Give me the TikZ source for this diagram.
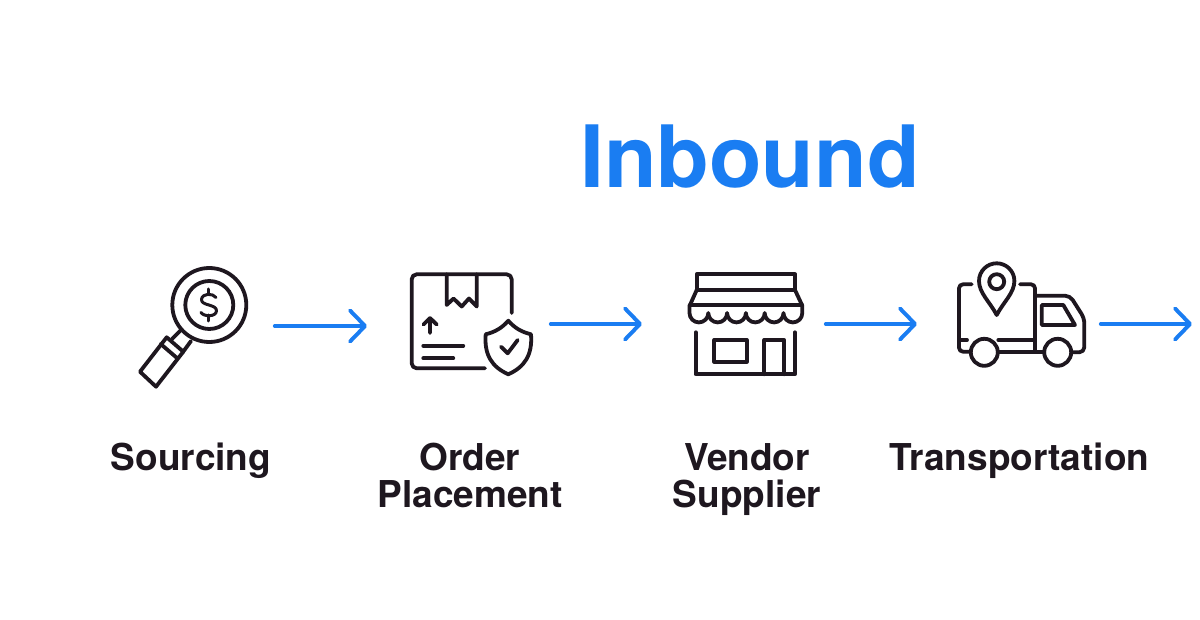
\documentclass[tikz,border=0pt]{standalone}
\usepackage{fontspec}
\setmainfont{TeX Gyre Heros}
\usetikzlibrary{arrows.meta}
\definecolor{inblue}{HTML}{1A7DF2}
\definecolor{inkdark}{HTML}{1E171F}
\tikzset{
  x=1pt,y=-1pt,
  icon/.style={draw=inkdark,line width=3.8pt,line cap=round,line join=round},
  iconbox/.style={inner sep=0pt,outer sep=0pt,minimum height=20pt},
  flow/.style={draw=inblue,line width=3.9pt,line cap=round,shorten <=1.8pt,-{Straight Barb[round,length=15pt,width=31pt,line width=3.9pt]}},
  steplabel/.style={font=\fontsize{37}{37}\selectfont\bfseries,text=inkdark,align=center,inner sep=0pt,anchor=center},
  titlelabel/.style={font=\fontsize{86}{86}\selectfont\bfseries,text=inblue,inner sep=0pt}
}
\begin{document}
\begin{tikzpicture}
\useasboundingbox (0,0) rectangle (1200,620);
\fill[white] (0,0) rectangle (1200,620);
% anchors for connectors
\node[iconbox,minimum width=135pt] (src) at (205.5,326) {};
\node[iconbox,minimum width=182pt] (ord) at (458,324) {};
\node[iconbox,minimum width=182pt] (ven) at (733,324) {};
\node[iconbox,minimum width=182pt] (tra) at (1008,324) {};
\coordinate (out) at (1192,324);
% connectors
\draw[flow] (src.east) -- (src.east -| ord.west);
\draw[flow] (ord.east) -- (ven.west);
\draw[flow] (ven.east) -- (tra.west);
\draw[flow] (tra.east) -- (out);
% magnifier
\draw[icon] (209.3,305) circle (37);
\draw[icon] (209.3,305) circle (24);
\draw[icon] (140,371.7) -- (156,386.7) -- (183.3,351.7) -- (166.7,337.3) -- cycle;
\draw[icon] (160.7,344) -- (177,358);
\draw[icon] (172,339) -- (181,330);
\draw[icon] (183,352) -- (191,341);
\draw[icon,line width=3pt] (216,297.5) .. controls (213,293) and (202,293) .. (201.5,299.5) .. controls (201,306) and (217,304) .. (216.5,311) .. controls (216,317) and (204,317) .. (201,312.5);
\draw[icon,line width=3pt] (208.8,289) -- (208.8,293.5) (208.8,315) -- (208.8,321);
% order box
\draw[icon,rounded corners=5pt] (511.7,313) -- (511.7,274.3) -- (411.7,274.3) -- (411.7,368.3) -- (485,368.3);
\draw[icon] (446.7,274.3) -- (446.7,305) -- (453.5,298.5) -- (461.7,306.5) -- (469,298.5) -- (476.7,306.5) -- (476.7,274.3);
\draw[icon] (430,333) -- (430,318) (423.5,324.5) -- (430,318) -- (436.7,324.5);
\draw[icon] (423.3,345.7) -- (463.3,345.7) (423.3,358.3) -- (453.3,358.3);
\draw[icon] (508.3,320.7) .. controls (502,328) and (495,332) .. (485.7,334.3) .. controls (484,355) and (492,367) .. (508.3,374.3) .. controls (524.6,367) and (532.6,355) .. (531,334.3) .. controls (521.6,332) and (514.6,328) .. (508.3,320.7) -- cycle;
\draw[icon] (501,346.7) -- (507.7,353.3) -- (517.7,340);
% store
\draw[icon] (696.7,290) -- (696.7,274.3) -- (795,274.3) -- (795,290) -- cycle;
\draw[icon] (696.7,290) -- (690,305) (795,290) -- (802,305);
\draw[icon] (690,305) -- (802,305);
\draw[icon] (689.5,305) -- (689.5,313)
  arc[start angle=180,end angle=0,radius=9.4]
  arc[start angle=180,end angle=0,radius=9.4]
  arc[start angle=180,end angle=0,radius=9.4]
  arc[start angle=180,end angle=0,radius=9.4]
  arc[start angle=180,end angle=0,radius=9.4]
  arc[start angle=180,end angle=0,radius=9.4] -- (802.3,305);
\draw[icon] (695.7,332.3) -- (695.7,374.3) -- (795,374.3) -- (795,332.3);
\draw[icon] (714.3,340) rectangle (746.7,361.7);
\draw[icon] (764.3,374.3) -- (764.3,340) -- (784.3,340) -- (784.3,374.3);
% truck
\draw[icon,rounded corners=4pt] (971.7,284.3) -- (959,284.3) -- (959,351.7) -- (970,351.7);
\draw[icon,rounded corners=4pt] (1020,284.3) -- (1035,284.3) -- (1035,351);
\draw[icon,rounded corners=5pt] (1035,295.7) -- (1070,295.7) -- (1084.3,318.3) -- (1084.3,352.3) -- (1071.5,352.3);
\draw[icon] (997.7,352.3) -- (1044.3,352.3);
\draw[icon] (998.3,340) -- (1035,340) (959,340) -- (967,340);
\draw[icon] (1041.7,305) -- (1063.3,305) -- (1075,325) -- (1041.7,325) -- cycle;
\draw[icon] (984.3,352.3) circle (13.5);
\draw[icon] (1057.7,352.3) circle (13.5);
\draw[icon] (996.7,315) .. controls (990,302) and (979,293) .. (979,281) arc[start angle=180,end angle=360,radius=17.7] .. controls (1014.4,293) and (1003.4,302) .. (996.7,315) -- cycle;
\draw[icon] (996.7,281.7) circle (7.5);
% texts
\node[titlelabel] (title) at (750,157) {Inbound};
\node[steplabel] (l1) at (191,461) {Sourcing};
\node[steplabel] (l2) at (470,475.5) {Order\\Placement};
\node[steplabel] (l3) at (747,479.5) {Vendor\\Supplier};
\node[steplabel] (l4) at (1019.5,461) {Transportation};
\end{tikzpicture}
\end{document}
